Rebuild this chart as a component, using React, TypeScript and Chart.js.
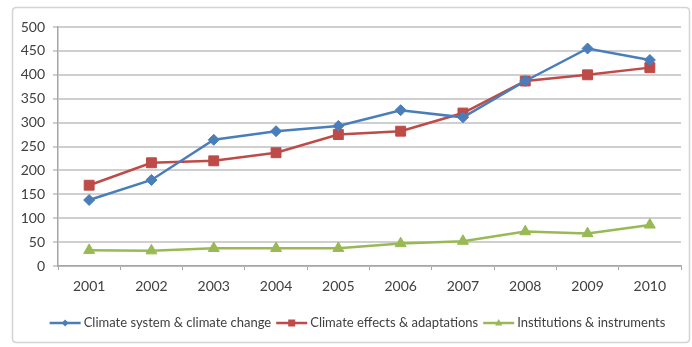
import React, { useEffect, useRef } from "react";
import { Chart, registerables } from "chart.js";

Chart.register(...registerables);

const years = ["2001", "2002", "2003", "2004", "2005", "2006", "2007", "2008", "2009", "2010"];
const climateSystem = [138, 180, 264, 282, 293, 326, 311, 387, 455, 431];
const climateEffects = [169, 216, 220, 237, 275, 282, 320, 387, 400, 415];
const institutions = [33, 32, 37, 37, 37, 47, 52, 72, 68, 86];
const seriesNames = ["Climate system & climate change", "Climate effects & adaptations", "Institutions & instruments"];
const yTicks = [0, 50, 100, 150, 200, 250, 300, 350, 400, 450, 500];

const COLORS = ["#4A7EBB", "#BE4B48", "#98B954"];
const STYLES = ["rectRot", "rect", "triangle"];
const RADII = [5.5, 7, 6.3];

const FONT = "Lato, 'Open Sans', sans-serif";

function drawMarker(ctx: CanvasRenderingContext2D, style: string, x: number, y: number, r: number, color: string) {
  ctx.save();
  ctx.fillStyle = color;
  ctx.beginPath();
  if (style === "rectRot") {
    ctx.moveTo(x, y - r);
    ctx.lineTo(x + r, y);
    ctx.lineTo(x, y + r);
    ctx.lineTo(x - r, y);
  } else if (style === "rect") {
    ctx.rect(x - r, y - r, r * 2, r * 2);
  } else {
    ctx.moveTo(x, y - r);
    ctx.lineTo(x + r * 0.9, y + r * 0.6);
    ctx.lineTo(x - r * 0.9, y + r * 0.6);
  }
  ctx.closePath();
  ctx.fill();
  ctx.restore();
}

const framePlugin = {
  id: "frameAndLegend",
  beforeDraw(chart: any) {
    const ctx = chart.ctx as CanvasRenderingContext2D;
    ctx.save();
    ctx.fillStyle = "#ffffff";
    ctx.fillRect(0, 0, chart.width, chart.height);
    ctx.strokeStyle = "#d4d4d4";
    ctx.lineWidth = 1.5;
    const x0 = 12.5, y0 = 7.5, x1 = 689.5, y1 = 342.5, rr = 4;
    ctx.beginPath();
    ctx.moveTo(x0 + rr, y0);
    ctx.lineTo(x1 - rr, y0);
    ctx.quadraticCurveTo(x1, y0, x1, y0 + rr);
    ctx.lineTo(x1, y1 - rr);
    ctx.quadraticCurveTo(x1, y1, x1 - rr, y1);
    ctx.lineTo(x0 + rr, y1);
    ctx.quadraticCurveTo(x0, y1, x0, y1 - rr);
    ctx.lineTo(x0, y0 + rr);
    ctx.quadraticCurveTo(x0, y0, x0 + rr, y0);
    ctx.stroke();
    ctx.restore();
  },
  afterDraw(chart: any) {
    const ctx = chart.ctx as CanvasRenderingContext2D;
    ctx.save();
    ctx.font = `13px ${FONT}`;
    ctx.textBaseline = "middle";
    ctx.fillStyle = "#404040";
    const lineLen = 31;
    const gapText = 3;
    const gapItem = 5;
    const widths = seriesNames.map((n) => ctx.measureText(n).width);
    const total = widths.reduce((a, w) => a + lineLen + gapText + w, 0) + gapItem * (seriesNames.length - 1);
    let x = 357.5 - total / 2;
    const y = 323;
    const legendR = [3.5, 3.5, 4];
    seriesNames.forEach((name, i) => {
      ctx.strokeStyle = COLORS[i];
      ctx.lineWidth = 2.5;
      ctx.beginPath();
      ctx.moveTo(x, y);
      ctx.lineTo(x + lineLen, y);
      ctx.stroke();
      drawMarker(ctx, STYLES[i], x + lineLen / 2, y, legendR[i], COLORS[i]);
      x += lineLen + gapText;
      ctx.fillText(name, x, y);
      x += widths[i] + gapItem;
    });
    ctx.restore();
  },
};

export default function App() {
  const ref = useRef<HTMLCanvasElement | null>(null);
  useEffect(() => {
    if (!ref.current) return;
    const data = [climateSystem, climateEffects, institutions];
    const chart = new Chart(ref.current, {
      type: "line",
      data: {
        labels: years,
        datasets: data.map((d, i) => ({
          label: seriesNames[i],
          data: d,
          borderColor: COLORS[i],
          backgroundColor: COLORS[i],
          borderWidth: 2.5,
          pointStyle: STYLES[i] as any,
          pointRadius: RADII[i],
          pointBorderWidth: 1,
          tension: 0,
          fill: false,
        })),
      },
      options: {
        animation: false,
        responsive: false,
        maintainAspectRatio: false,
        layout: { padding: { left: 8, right: 11, top: 27, bottom: 0 } },
        plugins: { legend: { display: false }, tooltip: { enabled: false } },
        scales: {
          x: {
            offset: true,
            grid: { display: true, drawOnChartArea: false, drawTicks: true, tickLength: 4, offset: true, color: "#a6a6a6" },
            border: { display: true, color: "#a6a6a6", width: 1.5 },
            ticks: { color: "#404040", font: { family: FONT, size: 14 }, padding: 8, maxRotation: 0 },
            afterFit: (s: any) => { s.height = 81; },
          },
          y: {
            min: 0,
            max: 500,
            afterBuildTicks: (s: any) => { s.ticks = yTicks.map((v) => ({ value: v })); },
            grid: { color: "#cfcfcf", lineWidth: 2, tickLength: 5, drawTicks: true },
            border: { display: true, color: "#a6a6a6", width: 1.5 },
            ticks: { color: "#404040", font: { family: FONT, size: 14 }, padding: 8 },
            afterFit: (s: any) => { s.width = 50; },
          },
        },
      },
      plugins: [framePlugin],
    });
    return () => chart.destroy();
  }, []);
  return (
    <div style={{ position: "fixed", left: 0, top: 0, width: 692, height: 347 }}>
      <canvas ref={ref} width={692} height={347} style={{ display: "block", width: 692, height: 347 }} />
    </div>
  );
}
